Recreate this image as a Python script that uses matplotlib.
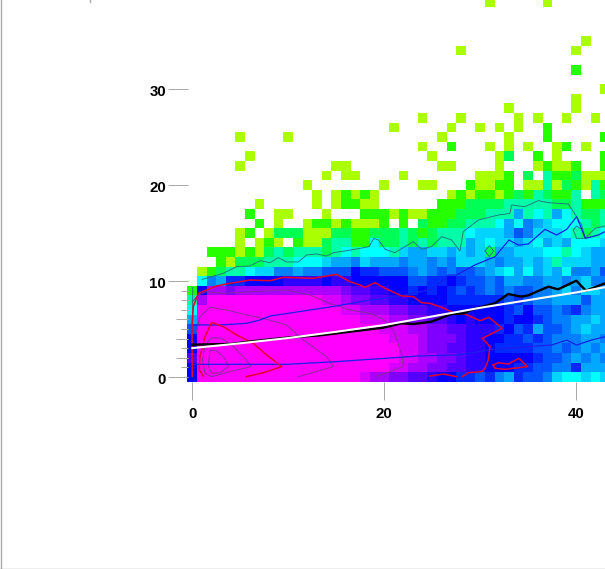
import matplotlib
matplotlib.use("Agg")
import matplotlib.pyplot as plt
import matplotlib.transforms as mtrans
from matplotlib.colors import LinearSegmentedColormap
from matplotlib.lines import Line2D
import numpy as np

plt.rcParams['font.family'] = ['Liberation Sans', 'DejaVu Sans']

# density level per cell, bottom row first, one char per column, '.' = empty
# 0-9 and a (=10) are whole levels, g h i j k l are 4.5 ... 9.5
density_rows = [
    "7aaaaaaaaa aaaaaaaal9 9kk88j77ii 6ih5i66hg4 4g4g",
    "7aaaaaaaaa aaaaaaaaaa all99kk88j j777ii66hh i555",
    "8aaaaaaaaa aaaaaaaaaa aall99kk8j j77777i66h 5h5h",
    "7aaaaaaaaa aaaaaaaaaa aall9kk88j j7iiii66h6 h5h5",
    "7aaaaaaaaa aaaaaaaaaa alll9kkk8j j77ii6i6hh h55h",
    "6aaaaaaaaa aaaaaaaaaa lll99kk88j jji76i566h 5g55",
    "5aaaaaaaaa aaaaaaaall l99kk88j7j 777i77i6hh 55g5",
    "4aaaaaaaaa aaaaaall99 9kk88jj777 777i6766h6 ih55",
    "39aaaaaaaa aaaall9kk8 8jj7777iii iii6i6hh55 5655",
    "1799k99999 999999k88j j77i7i7i6i 6h6h66hh5g hgg5",
    ".4h5ii7777 jjjj7jj777 77766ii7i6 6h655hh55h 5ghh",
    ".012334ggh h5hh6667ii 666h5h6h66 h5g4545g54 hh56",
    "...1022233 3444g55hg5 55h55h5hgg g5h55g5g3g gg55",
    "..11101023 2333234344 43g55gg5g5 g255ggg443 4g55",
    ".....0.010 .100233114 2232323335 g4gg5g45g5 444g",
    ".....01.02 2200022112 2232123334 ggg56hggg4 3234",
    ".......1.0 ..01101000 1.1.211223 33454h5g44 4323",
    "......1..0 0...0...11 1010011122 2333534354 3223",
    ".......0.. ...0.01100 ......1112 2223333322 3111",
    ".......... ...0.01010 .......010 1101213211 3.32",
    ".......... ..0....... 0...00...1 0011.00302 1031",
    ".......... ....0.00.. ..0....... 0001.2.311 2000",
    ".....0.... .....00... ......00.. ..0...0100 1..1",
    "......0... .......... .....0.... ..02..1.0. ...1",
    ".......... .......... ....0..1.. .0.0.0..01 .0..",
    ".....0.... 0......... ......0... ...0...1.. ...1",
    ".......... .......... .0.....0.. 0.0.0..1.. ....",
    ".......... .......... ....0...0. ....0.0..0 ..0.",
    ".......... .......... .......... ...0...... 0...",
    ".......... .......... .......... .......... 0...",
    ".......... .......... .......... .......... ...0",
    ".......... .......... .......... .......... ....",
    ".......... .......... .......... .......... 1...",
    ".......... .......... .......... .......... ....",
    ".......... .......... ........0. .......... 0...",
    ".......... .......... .......... .......... .0..",
    ".......... .......... .......... .......... ....",
    ".......... .......... .......... .......... ....",
    ".......... .......... .......... .......... ....",
    ".......... .......... .......... .0.....0.. ....",
]
half_levels = {"g": 4.5, "h": 5.5, "i": 6.5, "j": 7.5, "k": 8.5, "l": 9.5}
level_colors = ["#aaff00", "#22ff00", "#00ff55", "#00ffaa", "#00ffff", "#00aaff",
                "#0055ff", "#0000ff", "#5500ff", "#aa00ff", "#ff00ff"]

white_x = [0, 5, 10, 15, 20, 25, 30, 35, 40, 43]
white_y = [3.0, 3.5, 4.05, 4.7, 5.4, 6.3, 7.2, 8.0, 8.8, 9.35]

black_x = [0, 4, 6.7, 10.2, 13.3, 16.4, 19.9, 21.8, 23.1, 24.9, 27, 28.3, 29, 31.5,
           32.9, 34.3, 35, 37.1, 38.1, 40, 41, 43]
black_y = [3.36, 3.43, 3.77, 4.12, 4.33, 4.71, 5.13, 5.58, 5.51, 5.75, 6.55, 6.62, 6.97,
           7.66, 8.63, 8.36, 8.5, 9.4, 9.12, 10.02, 8.98, 9.75]

teal_x = [1.04, 3.23, 4.62, 6.0, 7.05, 8.09, 8.96, 9.83, 11.04, 11.91, 12.95, 13.99, 14.69,
          16.08, 17.47, 18.4, 18.92, 19.38, 19.9, 20.07, 21.11, 22.15, 23.02, 23.89, 24.93,
          25.97, 27.01, 27.88, 28.22, 29.79, 31.87, 33.09, 33.26, 34.65, 36.04, 37.08, 39.17,
          40.03, 40.56, 40.9, 41.43, 41.94, 42.99]
teal_y = [10.16, 10.79, 11.48, 11.55, 12.11, 11.9, 12.42, 11.97, 11.97, 12.7, 12.8, 12.59, 12.94,
          13.15, 13.39, 13.57, 14.43, 14.26, 13.57, 13.29, 12.94, 13.57, 14.09, 13.29, 13.57,
          14.61, 14.26, 13.11, 15.13, 16.34, 16.86, 17.03, 17.9, 17.73, 18.36, 18.15, 18.01,
          16.69, 15.82, 14.4, 14.95, 15.47, 15.72]
teal_loop_a_x = [30.49, 30.94, 31.39, 30.94, 30.49]
teal_loop_a_y = [13.11, 13.67, 13.11, 12.52, 13.11]
teal_loop_b_x = [39.69, 40.03, 40.56, 40.9, 40.03, 39.69]
teal_loop_b_y = [15.3, 15.72, 15.37, 14.43, 14.43, 15.3]
teal_edge_x = [0.05, 0.0, 0.0]
teal_edge_y = [9.3, 5.0, 0.0]

blue_upper_x = [0, 2.88, 5.66, 7.05, 8.09, 11.56, 15.03, 18.5, 20.07, 22.15, 24.93, 26.67, 27.53,
                29.44, 31.53, 32.99, 33.96, 35.0, 36.74, 37.95, 39.0, 40.03, 40.97, 42.29, 42.99]
blue_upper_y = [5.41, 5.41, 5.58, 5.93, 6.34, 6.86, 7.39, 8.01, 8.18, 8.53, 9.12, 10.61, 10.61,
                11.66, 12.52, 14.26, 13.74, 13.84, 15.37, 14.78, 15.37, 16.69, 14.43, 14.78, 15.13]
blue_lower_x = [0, 4.62, 9.83, 15.03, 18.5, 20.07, 23.54, 27.71, 30.83, 35.1, 37.43, 39.0, 40.03, 41.6, 42.99]
blue_lower_y = [1.31, 1.31, 1.31, 1.59, 1.83, 1.93, 2.18, 2.28, 2.8, 3.15, 3.32, 3.84, 3.32, 3.84, 4.19]

red_outer_x = [0, -0.03, 0.1, 0.63, 2.53, 3.92, 6.01, 8.09, 9.48, 12.6, 15.03, 16.42, 17.47, 17.99,
               19.03, 20.07, 21.81, 23.02, 23.89, 24.76, 25.97, 27.53, 28.4, 29.97, 30.9, 32.29,
               30.21, 31.01, 30.83, 30.49, 30.14, 28.75, 28.12]
red_outer_y = [0.09, 5.23, 7.32, 8.71, 9.47, 9.75, 10.09, 10.02, 10.37, 10.27, 10.68, 9.92, 9.57, 9.33,
               9.82, 9.23, 8.43, 8.36, 7.73, 7.66, 7.25, 6.55, 6.55, 5.86, 6.2, 5.06,
               4.02, 3.15, 1.76, 0.89, 0.55, 0.44, 0.02]
red_foot_x = [27.53, 26.15, 24.76]
red_foot_y = [0.02, 0.3, 0.09]
red_loop_x = [31.35, 31.86, 32.92, 34.0, 34.94, 32.57, 31.53, 31.35]
red_loop_y = [1.24, 1.48, 1.34, 1.93, 1.07, 0.79, 0.89, 1.24]
red_inner_x = [1.15, 0.73, 0.8, 1.32, 2.01, 3.23, 4.62, 6.35, 7.74, 9.31, 7.4, 5.59]
red_inner_y = [0.09, 0.72, 2.11, 4.19, 5.68, 5.23, 4.36, 3.5, 2.28, 1.07, 0.44, 0.02]

purple_1_x = [0, 0.63, 1.49, 3.23, 6.35, 9.83, 12.26, 14.34, 16.42, 18.51, 19.9, 20.59, 21.11, 21.8, 22.0, 20.07, 19.1]
purple_1_y = [7.84, 8.53, 8.88, 8.71, 8.88, 9.05, 8.53, 7.66, 6.97, 6.62, 6.0, 5.3, 4.54, 2.28, 1.07, 0.37, 0.02]
purple_2_x = [0.45, 0.8, 1.84, 3.58, 5.66, 7.74, 9.83, 11.56, 13.99, 14.69, 11.04]
purple_2_y = [4.71, 6.27, 7.25, 6.97, 6.45, 6.0, 5.41, 3.84, 2.11, 1.07, 0.02]
purple_3_x = [1.08, 1.32, 2.01, 3.06, 4.27, 5.31, 6.11, 3.92, 2.01, 1.32, 1.08]
purple_3_y = [1.76, 3.32, 4.09, 4.02, 3.15, 2.11, 1.07, 0.55, 0.02, 0.37, 1.76]
purple_4_x = [1.67, 1.84, 2.53, 3.4, 3.75, 2.88, 2.01, 1.67]
purple_4_y = [1.24, 2.8, 2.73, 1.93, 1.07, 0.44, 0.37, 1.24]

x_major = [0, 20, 40]
y_major = [0, 10, 20, 30]
y_minor = [1, 2, 3, 4, 5, 6, 7, 8, 9]
y_minor_long = [2, 4, 6]

def cell_value(c):
    if c == ".":
        return np.nan
    if c in half_levels:
        return half_levels[c]
    return int(c, 16)

grid = np.array([[cell_value(c) for c in row.replace(" ", "")] for row in density_rows])

W, H = 605, 569
PX = 9.6  # pixels per data unit
X0, Y0 = 192.3, 376.9  # pixel of data origin
GRAY = "#aaaaaa"

fig = plt.figure(figsize=(W / 100, H / 100), dpi=100)
ax = fig.add_axes([0, 0, 1, 1])
ax.set_xlim(-X0 / PX, (W - X0) / PX)
ax.set_ylim((Y0 - H) / PX, Y0 / PX)

xe = np.arange(grid.shape[1] + 1) - 0.5
ye = np.arange(grid.shape[0] + 1) - 0.5
cmap = LinearSegmentedColormap.from_list("density", level_colors, N=256)
ax.pcolormesh(xe, ye, grid, cmap=cmap, vmin=0, vmax=10, antialiased=False, linewidth=0)

# thin density contours
for px_, py_ in [(purple_1_x, purple_1_y), (purple_2_x, purple_2_y),
                 (purple_3_x, purple_3_y), (purple_4_x, purple_4_y)]:
    ax.plot(px_, py_, color="#8a2a9a", lw=0.7)
for px_, py_ in [(teal_x, teal_y), (teal_loop_a_x, teal_loop_a_y),
                 (teal_loop_b_x, teal_loop_b_y), (teal_edge_x, teal_edge_y)]:
    ax.plot(px_, py_, color="#1f7d80", lw=0.7)
ax.plot(blue_upper_x, blue_upper_y, color="#1a20e8", lw=0.9)
ax.plot(blue_lower_x, blue_lower_y, color="#1a20e8", lw=0.9)
for px_, py_ in [(red_outer_x, red_outer_y), (red_foot_x, red_foot_y),
                 (red_loop_x, red_loop_y), (red_inner_x, red_inner_y)]:
    ax.plot(px_, py_, color="#e8002a", lw=1.1)
ax.plot(black_x, black_y, color="black", lw=1.7)
ax.plot(white_x, white_y, color="white", lw=1.5)

# axes sit just outside the heatmap, the frame is along the figure edge
for s in ["top", "right"]:
    ax.spines[s].set_visible(False)
ax.spines["left"].set_position(("data", (188 - X0) / PX))
ax.spines["bottom"].set_position(("data", -0.5))
ax.spines["left"].set_visible(False)
ax.spines["bottom"].set_visible(False)
ax.set_xticks(x_major)
ax.set_yticks(y_major)
ax.set_yticks(y_minor, minor=True)
ax.tick_params(axis="x", length=13, width=0.72, color=GRAY, pad=5, labelsize=10.8)
ax.tick_params(axis="y", length=14.4, width=0.72, color=GRAY, pad=1.5, labelsize=10.8)
ax.tick_params(axis="y", which="minor", length=5, width=0.72, color=GRAY)
for t, v in zip(ax.yaxis.get_minor_ticks(), y_minor):
    if v in y_minor_long:
        t.tick1line.set_markersize(8.6)
shift = mtrans.ScaledTranslation(0, -1.5 / 100, fig.dpi_scale_trans)
for lab in ax.get_yticklabels():
    lab.set_transform(lab.get_transform() + shift)
    lab.set_fontweight("bold")
for lab in ax.get_xticklabels():
    lab.set_fontweight("bold")

fig.add_artist(Line2D([0.5 / W, 0.5 / W], [0, 1], color=GRAY, lw=1))
fig.add_artist(Line2D([0, 1], [0.5 / H, 0.5 / H], color=GRAY, lw=1))
fig.add_artist(Line2D([89.5 / W, 89.5 / W], [1 - 1.5 / H, 1], color=GRAY, lw=1))

fig.savefig("out.png", dpi=100)
